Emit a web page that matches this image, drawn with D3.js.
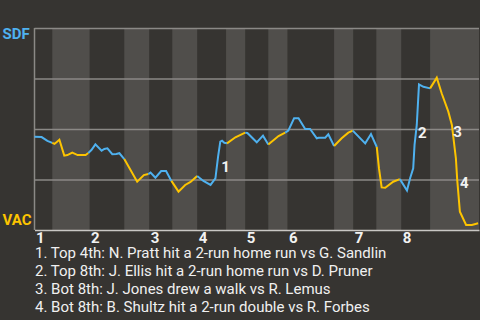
<!DOCTYPE html>
<html>
<head>
<meta charset="utf-8">
<script src="https://cdn.jsdelivr.net/npm/d3@7"></script>
<style>
  html, body { margin: 0; padding: 0; background: #363431; }
  #main { width: 480px; height: 320px; }
</style>
</head>
<body>
<div id="main"></div>
<script>
// game progress (% of game) at the start of each half inning, plus the end
const halfStarts = [0, 4.0, 12.4, 20.2, 25.8, 31.0, 36.6, 43.1, 47.4, 52.6, 56.9, 67.4, 71.7, 76.9, 82.5, 89.0, 100];
const inningLabels = ["1", "2", "3", "4", "5", "6", "7", "8"];

// SDF win probability (%) by game progress, one array per half inning
const progress = [
    [0, 1.6, 2.9, 4.0],
    [4.5, 5.6, 6.7, 7.4, 8.5, 9.7, 11.5, 12.1],
    [12.8, 13.7, 15.1, 15.7, 16.4, 17.5, 18.4, 19.1, 20.2],
    [23.1, 24.6, 25.6],
    [26.1, 27.2, 28.5, 29.6, 30.8],
    [32.4, 33.9, 35.1, 36.6],
    [38.0, 39.6, 40.7, 41.3, 41.8, 42.2, 42.7, 43.3],
    [45.2, 46.7, 47.4],
    [47.9, 50.0, 51.4, 52.6],
    [54.9, 56.4],
    [57.1, 58.4, 59.4, 60.9, 62.0, 63.5, 63.9, 65.4, 66.1, 67.4],
    [69.1, 70.6, 71.6],
    [74.4, 75.7, 77.0],
    [77.5, 78.1, 78.9, 80.7, 82.2],
    [83.8, 84.5, 85.2, 85.5, 86.0, 86.5, 87.5, 89.0],
    [90.5, 91.6, 93.1, 93.9, 94.8, 95.1, 95.7, 97.1, 98.4, 99.8]
];
const sdfWinProb = [
    [46.2, 46.0, 44.1, 43.1],
    [42.6, 44.7, 36.8, 37.1, 38.3, 37.1, 37.1, 38.1],
    [39.6, 42.4, 39.3, 40.1, 40.4, 37.5, 37.6, 38.0, 35.1],
    [23.9, 27.2, 27.7],
    [28.4, 25.9, 29.2, 29.2, 24.3],
    [19.0, 22.3, 23.8, 26.7],
    [24.3, 22.3, 25.6, 36.3, 43.7, 44.2, 43.2, 42.9],
    [45.9, 47.5, 48.2],
    [48.0, 43.4, 46.7, 42.3],
    [46.5, 48.2],
    [49.2, 55.3, 55.3, 50.0, 50.0, 45.4, 45.7, 45.7, 47.4, 41.6],
    [45.4, 48.2, 49.2],
    [42.9, 47.5, 41.1],
    [30.5, 21.1, 20.9, 23.9, 25.2],
    [19.6, 25.6, 30.5, 42.1, 52.0, 72.1, 70.9, 70.1],
    [75.4, 67.7, 58.6, 52.0, 35.5, 24.8, 9.1, 2.5, 2.5, 3.3]
];

// key plays: label, progress, win prob where the number sits
const playMarks = ["1", "2", "3", "4"];
const playProgress = [42.0, 86.3, 94.2, 95.7];
const playProb = [31.2, 48.0, 48.7, 23.3];
const playText = [
    "1. Top 4th: N. Pratt hit a 2-run home run vs G. Sandlin",
    "2. Top 8th: J. Ellis hit a 2-run home run vs D. Pruner",
    "3. Bot 8th: J. Jones drew a walk vs R. Lemus",
    "4. Bot 8th: B. Shultz hit a 2-run double vs R. Forbes"
];

const width = 480;
const height = 320;
const margin = ({ top: 28, right: 1, bottom: 90, left: 34.5 });

const awayColor = "#4fb1ef";
const homeColor = "#fdc400";

const x = d3.scaleLinear()
    .domain([0, 100])
    .range([margin.left, width - margin.right]);

const y = d3.scaleLinear()
    .domain([0, 100])
    .range([height - margin.bottom, margin.top]);

const svg = d3.select("#main").append("svg")
    .attr("width", width)
    .attr("height", height)
    .style("font-family", "Roboto, 'Noto Sans', sans-serif");

svg.append("rect")
    .attr("width", width)
    .attr("height", height)
    .attr("fill", "#363431");

// shade bottom halves
const halves = d3.range(halfStarts.length - 1).map(i => [halfStarts[i], halfStarts[i + 1], i]);
svg.append("g")
    .selectAll("rect")
    .data(halves.filter(d => d[2] % 2 === 1))
    .join("rect")
    .attr("x", d => x(d[0]))
    .attr("width", d => x(d[1]) - x(d[0]))
    .attr("y", y(100))
    .attr("height", y(0) - y(100))
    .attr("fill", "#504e4b");

// grid
svg.append("g")
    .attr("transform", `translate(${margin.left},0)`)
    .call(d3.axisLeft(y).tickValues([25, 50, 75, 100]).tickSize(-(width - margin.right - margin.left)).tickFormat(""))
    .call(g => g.select(".domain").remove())
    .call(g => g.selectAll(".tick line").attr("stroke", "#8b8986").attr("stroke-width", 1.5));

svg.append("line")
    .attr("x1", x(0)).attr("x2", x(0))
    .attr("y1", y(100)).attr("y2", y(0))
    .attr("stroke", "#8b8986")
    .attr("stroke-width", 1.5);

svg.append("g")
    .attr("transform", `translate(0,${y(0)})`)
    .call(d3.axisBottom(x).tickValues(halfStarts.filter((d, i) => i % 2 === 0).slice(0, inningLabels.length))
        .tickSize(0).tickFormat((d, i) => inningLabels[i]))
    .call(g => g.select(".domain").attr("stroke", "#c9c7c4").attr("stroke-width", 1.5))
    .call(g => g.selectAll(".tick text")
        .attr("text-anchor", "start")
        .attr("x", 1)
        .attr("y", 12.7)
        .attr("dy", null)
        .attr("fill", "#f2f2f2")
        .attr("font-size", 15)
        .attr("font-weight", "bold")
        .attr("font-family", "Roboto, sans-serif"));

// win probability line, coloured by the team at bat
const segs = progress.map((xs, i) => {
    const pts = xs.map((d, j) => [d, sdfWinProb[i][j]]);
    if (i > 0) {
        const prev = progress[i - 1].length - 1;
        pts.unshift([progress[i - 1][prev], sdfWinProb[i - 1][prev]]);
    }
    return pts;
});

const line = d3.line()
    .x(d => x(d[0]))
    .y(d => y(d[1]));

svg.append("g")
    .selectAll("path")
    .data(segs)
    .join("path")
    .attr("fill", "none")
    .attr("stroke", (d, i) => i % 2 === 0 ? awayColor : homeColor)
    .attr("stroke-width", 2)
    .attr("stroke-linejoin", "miter")
    .attr("d", line);

// play numbers
svg.append("g")
    .selectAll("text")
    .data(playMarks)
    .join("text")
    .attr("x", (d, i) => x(playProgress[i]))
    .attr("y", (d, i) => y(playProb[i]))
    .attr("dy", "0.36em")
    .attr("fill", "#f2f2f2")
    .attr("font-size", 15)
    .attr("font-weight", "bold")
    .text(d => d);

// team names
svg.append("text")
    .attr("x", 2.5)
    .attr("y", 39.3)
    .attr("fill", awayColor)
    .attr("font-size", 15)
    .attr("font-weight", "bold")
    .text("SDF");

svg.append("text")
    .attr("x", 2.5)
    .attr("y", 225)
    .attr("fill", homeColor)
    .attr("font-size", 15)
    .attr("font-weight", "bold")
    .text("VAC");

// key plays list
svg.append("g")
    .selectAll("text")
    .data(playText)
    .join("text")
    .attr("x", 35)
    .attr("y", (d, i) => 258 + i * 18)
    .attr("fill", "#f0f0f0")
    .attr("font-size", 15)
    .text(d => d);
</script>
</body>
</html>
